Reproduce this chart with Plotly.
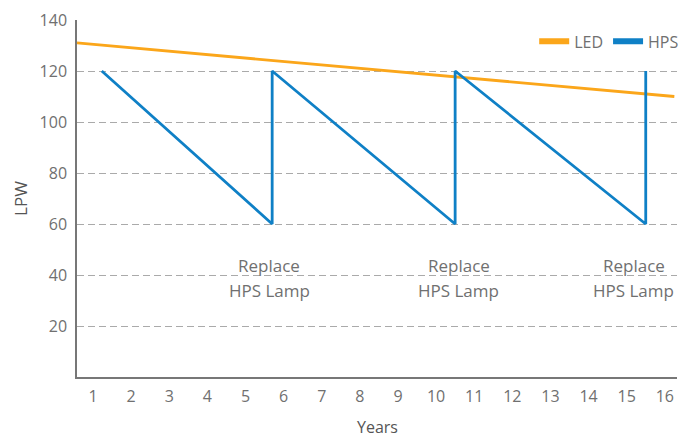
import plotly.graph_objects as go

# Data
led_x = [0.58, 16.25]
led_y = [131, 110]
hps_x = [1.23, 5.70, 5.70, 10.50, 10.50, 15.50, 15.50]
hps_y = [120, 60, 120, 60, 120, 60, 120]
note_x = [5.62, 10.59, 15.19]
note_lines = ["Replace", "HPS Lamp"]
note_line_y = [43.9, 34.1]
x_ticks = list(range(1, 17))
y_ticks = [20, 40, 60, 80, 100, 120, 140]

ORANGE = "#FBA61A"
BLUE = "#0F80C6"
FONT = "Open Sans"
TXT = "#707070"

fig = go.Figure()
fig.add_trace(go.Scatter(x=led_x, y=led_y, mode="lines", line=dict(color=ORANGE, width=2.8),
                         showlegend=False, hoverinfo="skip"))
fig.add_trace(go.Scatter(x=hps_x, y=hps_y, mode="lines", line=dict(color=BLUE, width=2.8),
                         showlegend=False, hoverinfo="skip"))
# legend entries
fig.add_trace(go.Scatter(x=[None], y=[None], mode="lines", name="LED", line=dict(color=ORANGE, width=6)))
fig.add_trace(go.Scatter(x=[None], y=[None], mode="lines", name="HPS", line=dict(color=BLUE, width=6)))

for nx in note_x:
    for txt, ny in zip(note_lines, note_line_y):
        fig.add_annotation(x=nx, y=ny, text=txt, showarrow=False, xanchor="center", yanchor="middle",
                           font=dict(family=FONT, size=17, color=TXT))

# x-axis title placed as a paper annotation for exact vertical placement
fig.add_annotation(xref="paper", yref="paper", x=0.5, y=-0.141, text="Years", showarrow=False,
                   xanchor="center", yanchor="middle",
                   font=dict(family=FONT, size=16, color="#555555"))

# page body has an ~8px margin, so the figure is sized/margined to compensate
fig.update_layout(
    width=683, height=430,
    margin=dict(l=69, r=14, t=12, b=61, autoexpand=False),
    paper_bgcolor="white", plot_bgcolor="white",
    font=dict(family=FONT, size=16, color=TXT),
    legend=dict(orientation="h", x=1.012, xanchor="right", y=0.94, yanchor="middle",
                font=dict(family=FONT, size=16, color=TXT), itemwidth=30,
                bgcolor="rgba(0,0,0,0)"),
    xaxis=dict(range=[0.58, 16.32], tickvals=x_ticks, showgrid=False, zeroline=False, automargin=False,
               showline=True, linecolor="#777777", linewidth=1.5, ticks="", ticklabelstandoff=4,
               tickfont=dict(family=FONT, size=16, color=TXT)),
    yaxis=dict(range=[0, 140], tickvals=y_ticks, showgrid=True, gridcolor="#aaaaaa", griddash="7px,4px",
               gridwidth=1, zeroline=False, showline=True, linecolor="#777777", linewidth=1.5, ticks="",
               ticklabelstandoff=5,
               automargin=False, tickfont=dict(family=FONT, size=16, color=TXT),
               title=dict(text="LPW", font=dict(family=FONT, size=17, color="#555555"), standoff=8)),
)

fig.write_html("out.html")
